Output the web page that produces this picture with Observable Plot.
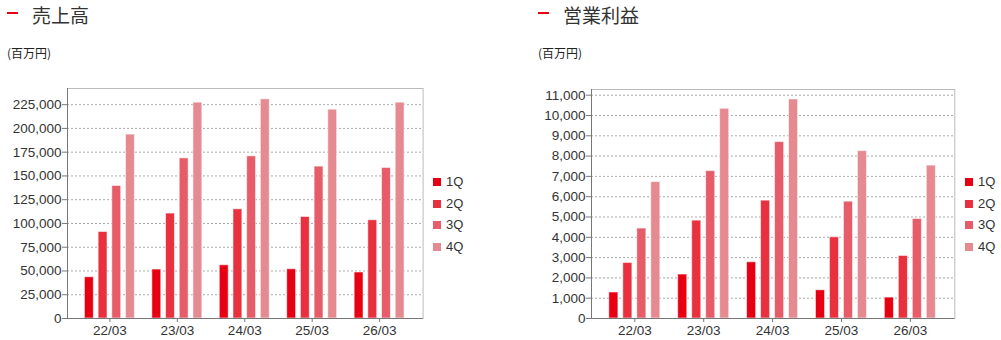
<!DOCTYPE html>
<html>
<head>
<meta charset="utf-8">
<script src="https://cdn.jsdelivr.net/npm/d3@7"></script>
<script src="https://cdn.jsdelivr.net/npm/@observablehq/plot@0.6"></script>
<style>
  html, body { margin: 0; padding: 0; background: #fff; }
  body { width: 1001px; height: 340px; position: relative; overflow: hidden;
         font-family: "Liberation Sans", Arial, sans-serif; color: #333; }
  .dash { position: absolute; width: 11px; height: 2px; background: #e60012; }
  .title { position: absolute; font-family: "Noto Sans CJK JP", sans-serif; font-size: 19px; line-height: 1; color: #333; }
  .unit { position: absolute; font-family: "Noto Sans CJK JP", sans-serif; font-size: 12px; line-height: 1; color: #222; }
  .legend { position: absolute; font-size: 13px; color: #333; }
  .legend .item { position: absolute; left: 0; height: 14px; line-height: 14px; white-space: nowrap; }
  .legend .sw { position: absolute; left: 0; top: 3px; width: 8px; height: 8px; }
  .legend .lbl { position: absolute; left: 13px; top: 0; }
</style>
</head>
<body>
<script>
// ---- data ----
const periods = ["22/03", "23/03", "24/03", "25/03", "26/03"];
const quarters = ["1Q", "2Q", "3Q", "4Q"];
const colors = ["#e60012", "#e8303f", "#e65c69", "#e68a91"];

const sales1Q = [43400, 51500, 56000, 51800, 48400];
const sales2Q = [91000, 110400, 114900, 106800, 103400];
const sales3Q = [139400, 168500, 170600, 159800, 158400];
const sales4Q = [193500, 227100, 230600, 219700, 227100];

const op1Q = [1280, 2165, 2770, 1390, 1030];
const op2Q = [2735, 4820, 5805, 4000, 3080];
const op3Q = [4430, 7260, 8690, 5755, 4900];
const op4Q = [6720, 10330, 10790, 8245, 7530];

const salesTicks = [0, 25000, 50000, 75000, 100000, 125000, 150000, 175000, 200000, 225000];
const opTicks = [0, 1000, 2000, 3000, 4000, 5000, 6000, 7000, 8000, 9000, 10000, 11000];

const salesTitle = "売上高";
const opTitle = "営業利益";
const unitLabel = "(百万円)";

// ---- helpers ----
function rowsFrom(series) {
  const rows = [];
  series.forEach((vals, qi) => {
    vals.forEach((v, pi) => rows.push({period: periods[pi], quarter: quarters[qi], pi, qi, value: v}));
  });
  return rows;
}

const STEP = 0.203, BARW = 0.132;
const XDOMAIN = [-0.629, 4.645];

function chart({series, ticks, yMax, width, marginLeft, marginRight, marginTop}) {
  const rows = rowsFrom(series);
  const fmt = d3.format(",");
  return Plot.plot({
    width, height: 265,
    marginLeft, marginRight, marginTop, marginBottom: 22,
    style: {fontFamily: "'Liberation Sans', Arial, sans-serif", fontSize: "13.5px", color: "#333", background: "transparent"},
    x: {type: "linear", domain: XDOMAIN, axis: null, label: null},
    y: {domain: [0, yMax], axis: null, label: null},
    color: {domain: quarters, range: colors},
    marks: [
      Plot.gridY(ticks.filter(t => t > 0), {stroke: "#aaa", strokeOpacity: 1, strokeDasharray: "2,2"}),
      Plot.frame({stroke: "#bbb"}),
      Plot.rect(rows, {
        x1: d => d.pi + (d.qi - 1.5) * STEP - BARW / 2,
        x2: d => d.pi + (d.qi - 1.5) * STEP + BARW / 2,
        y1: 0, y2: "value", fill: "quarter",
        stroke: "#fff", strokeOpacity: 0.55, strokeWidth: 1
      }),
      Plot.ruleY([0], {stroke: "#777"}),
      Plot.ruleX([XDOMAIN[0]], {stroke: "#777"}),
      Plot.axisY(ticks, {label: null, tickFormat: fmt, tickSize: 5, tickPadding: 1, stroke: "#777", fill: "#333", fontSize: 13.5}),
      Plot.axisX(periods.map((_, i) => i), {label: null, tickFormat: i => periods[i], tickSize: 4, tickPadding: 3, stroke: "#777", fill: "#333", fontSize: 13.5})
    ]
  });
}

function place(el, left, top) {
  el.style.position = "absolute";
  el.style.left = left + "px";
  el.style.top = top + "px";
  document.body.appendChild(el);
}

function header(left, title) {
  const d = document.createElement("div"); d.className = "dash";
  d.style.left = left + "px"; d.style.top = "12px"; document.body.appendChild(d);
  const t = document.createElement("div"); t.className = "title"; t.textContent = title;
  t.style.left = (left + 25) + "px"; t.style.top = "5px"; document.body.appendChild(t);
  const u = document.createElement("div"); u.className = "unit"; u.textContent = unitLabel;
  u.style.left = left + "px"; u.style.top = "47px"; document.body.appendChild(u);
}

function legend(left) {
  const lg = document.createElement("div"); lg.className = "legend";
  lg.style.left = left + "px"; lg.style.top = "175px";
  quarters.forEach((q, i) => {
    const it = document.createElement("div"); it.className = "item";
    it.style.top = (i * 21.6) + "px";
    const sw = document.createElement("span"); sw.className = "sw"; sw.style.background = colors[i];
    const lb = document.createElement("span"); lb.className = "lbl"; lb.textContent = q;
    it.appendChild(sw); it.appendChild(lb); lg.appendChild(it);
  });
  document.body.appendChild(lg);
}

// ---- left chart: 売上高 ----
header(7, salesTitle);
place(chart({series: [sales1Q, sales2Q, sales3Q, sales4Q], ticks: salesTicks, yMax: 242000,
             width: 426, marginLeft: 67, marginRight: 3.4, marginTop: 13}), 0, 75);
legend(433);

// ---- right chart: 営業利益 ----
header(538, opTitle);
place(chart({series: [op1Q, op2Q, op3Q, op4Q], ticks: opTicks, yMax: 11280,
             width: 430, marginLeft: 61, marginRight: 5.7, marginTop: 14}), 530, 75);
legend(965);
</script>
</body>
</html>
